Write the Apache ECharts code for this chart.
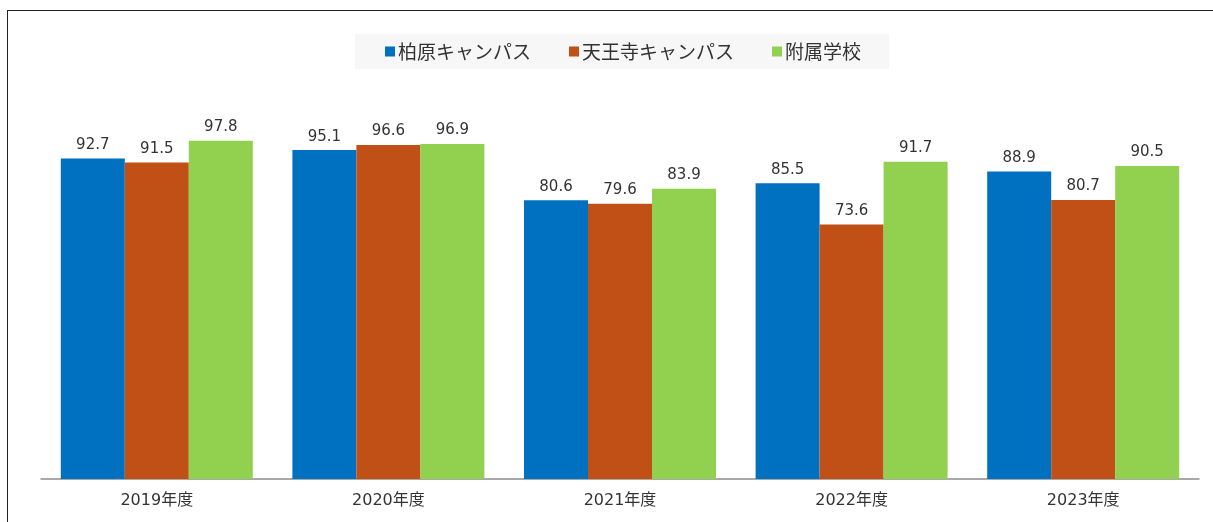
<!DOCTYPE html>
<html lang="ja">
<head>
    <meta charset="utf-8">
    <title>キャンパス別</title>
    <script src="https://cdn.jsdelivr.net/npm/echarts@6.0.0/dist/echarts.min.js"></script>
    <style>
        html, body { margin: 0; padding: 0; background: #fff; }
        #wrap { position: relative; width: 1213px; height: 522px; }
        #frame { position: absolute; left: 7px; top: 10px; right: 0; bottom: 0;
                 border-top: 1px solid #222; border-left: 1px solid #222; }
        #chart { position: absolute; left: 0; top: 0; width: 1213px; height: 522px; }
    </style>
</head>
<body>
    <div id="wrap">
        <div id="frame"></div>
        <div id="chart"></div>
    </div>
    <script>
        // data
        const years = ['2019年度', '2020年度', '2021年度', '2022年度', '2023年度'];
        const kashiwara = [92.7, 95.1, 80.6, 85.5, 88.9];
        const tennoji = [91.5, 96.6, 79.6, 73.6, 80.7];
        const fuzoku = [97.8, 96.9, 83.9, 91.7, 90.5];

        const font = '"Noto Sans CJK JP", "Noto Sans", sans-serif';
        const numFont = '"DejaVu Sans", "Noto Sans CJK JP", sans-serif';

        const chart = echarts.init(document.getElementById('chart'));

        function barSeries(name, data, color) {
            return {
                name: name,
                type: 'bar',
                data: data,
                barWidth: 64,
                barGap: '0%',
                itemStyle: { color: color },
                label: {
                    show: true,
                    position: 'top',
                    distance: 6,
                    color: '#333',
                    fontSize: 15,
                    fontFamily: numFont
                }
            };
        }

        chart.setOption({
            animation: false,
            legend: {
                left: 355,
                top: 34,
                padding: [8, 28, 8, 30],
                itemGap: 38,
                itemWidth: 10,
                itemHeight: 10,
                icon: 'rect',
                backgroundColor: '#f7f7f7',
                textStyle: { fontSize: 19, color: '#333', fontFamily: font, padding: [0, 0, 0, -2] },
                data: ['柏原キャンパス', '天王寺キャンパス', '附属学校']
            },
            grid: { left: 41, right: 14, top: 64, bottom: 43, containLabel: false },
            xAxis: {
                type: 'category',
                data: years,
                axisLine: { lineStyle: { color: '#8c8c8c', width: 1.5 } },
                axisTick: { show: false },
                axisLabel: { color: '#333', fontSize: 16, fontFamily: numFont, margin: 14 }
            },
            yAxis: {
                type: 'value',
                min: 0,
                max: 120,
                show: false,
                splitLine: { show: false }
            },
            series: [
                barSeries('柏原キャンパス', kashiwara, '#0070c0'),
                barSeries('天王寺キャンパス', tennoji, '#c05016'),
                barSeries('附属学校', fuzoku, '#92d050')
            ]
        });
    </script>
</body>
</html>
